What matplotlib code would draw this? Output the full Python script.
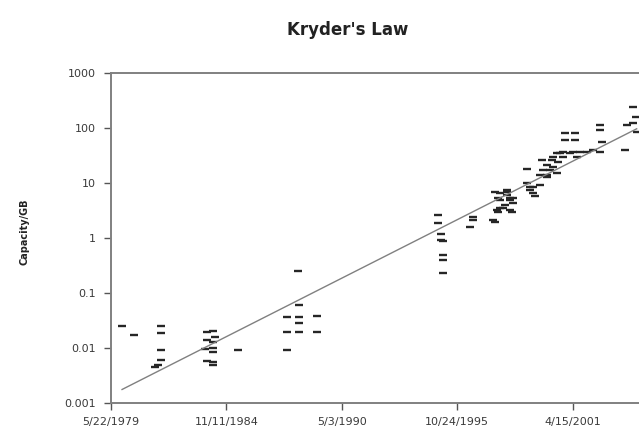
import numpy as np
import matplotlib
matplotlib.use("Agg")
import matplotlib.pyplot as plt
import matplotlib.dates as mdates
from matplotlib.ticker import FixedLocator, FuncFormatter
from datetime import datetime, timedelta

# drive introductions: decimal year, capacity in GB
years = [1979.91, 1980.48, 1981.76, 1981.76, 1981.76, 1981.76, 1981.62, 1981.48,
         1983.94, 1984.23, 1984.32, 1983.94, 1984.23, 1984.23, 1983.85, 1983.94,
         1984.23, 1984.23, 1984.23, 1985.41,
         1988.26, 1988.30, 1987.73, 1988.30, 1989.16, 1988.30, 1987.73, 1988.30,
         1989.16, 1987.73,
         1994.89, 1994.89, 1995.04, 1995.13, 1995.04, 1995.13, 1995.13, 1995.13,
         1996.41, 1996.55, 1996.55,
         1997.50, 1997.60, 1997.69, 1997.74, 1997.83, 1997.83, 1997.74, 1997.60,
         1998.16, 1998.16, 1998.31, 1998.31, 1998.45, 1998.00, 1998.40, 1998.31,
         1997.83, 1998.16, 1998.45, 1998.10,
         1999.11, 1999.11, 1999.40, 1999.25, 1999.49, 1999.40, 1999.73, 1999.25,
         1999.73, 1999.82, 1999.87, 2000.06, 2000.06, 2000.06, 2000.30, 2000.35,
         2000.53, 2000.20, 2000.35, 2000.53, 2000.68, 2000.58,
         2000.82, 2000.82, 2001.15, 2001.29, 2001.48, 2001.63, 2000.92, 2001.39,
         2000.92, 2001.39,
         2002.57, 2002.57, 2002.67, 2002.57, 2001.96, 2002.24,
         2003.76, 2003.85, 2004.14, 2004.14, 2004.33, 2004.30]
capacity = [0.025, 0.0172, 0.025, 0.0187, 0.0092, 0.0061, 0.0049, 0.0045,
            0.0195, 0.0204, 0.0158, 0.014, 0.0129, 0.01, 0.0096, 0.0058,
            0.0056, 0.0049, 0.0085, 0.0092,
            0.25, 0.06, 0.0366, 0.0366, 0.038, 0.0285, 0.0195, 0.0195,
            0.0195, 0.0092,
            2.62, 1.87, 1.2, 0.88, 0.92, 0.49, 0.4, 0.23,
            1.58, 2.12, 2.41,
            2.1, 1.95, 3.2, 2.97, 3.51, 4.9, 5.33, 6.8,
            6.05, 6.8, 5.3, 4.91, 4.3, 3.5, 2.97, 3.23,
            6.58, 7.46, 5.33, 4.0,
            18.0, 10.0, 8.5, 7.5, 5.7, 6.58, 9.2, 8.46,
            14.0, 26.0, 17.2, 21.3, 14.0, 12.9, 26.0, 19.6,
            15.2, 17.2, 29.7, 35.1, 35.1, 24.1,
            29.7, 36.6, 35.1, 36.6, 29.7, 36.6, 81, 81,
            60, 60,
            113, 92, 55.6, 36.6, 36.6, 39.8,
            39.8, 113, 241, 123, 84.5, 160]

tick_dates = ["1979-05-22", "1984-11-11", "1990-05-03", "1995-10-24", "2001-04-15"]
y_ticks = [0.001, 0.01, 0.1, 1, 10, 100, 1000]
y_labels = ["0.001", "0.01", "0.1", "1", "10", "100", "1000"]


def year_to_num(y):
    base = datetime(int(y), 1, 1)
    return mdates.date2num(base + timedelta(days=(y - int(y)) * 365.25))


x = np.array([year_to_num(y) for y in years])
c = np.array(capacity)

fig = plt.figure(figsize=(6.39, 4.30), dpi=100)
# plot area runs past the right edge of the picture, as in the source
ax = fig.add_axes([111 / 639, 27 / 430, 577 / 639, 330 / 430])

ax.plot(x, c, linestyle="none", marker="_", markersize=6, mew=1.7, color="#262626")

# exponential trendline over the data range
k, b = np.polyfit(x, np.log10(c), 1)
xt = np.array([x.min(), x.max()])
ax.plot(xt, 10 ** (k * xt + b), color="#808080", lw=1)

ax.set_yscale("log")
ax.set_ylim(0.001, 1000)
x0 = mdates.date2num(datetime(1979, 5, 22))
ax.set_xlim(x0, x0 + 10000)

ax.yaxis.set_major_locator(FixedLocator(y_ticks))
ax.set_yticklabels(y_labels)
ax.yaxis.set_minor_locator(FixedLocator([]))
ax.xaxis.set_major_locator(FixedLocator([mdates.date2num(datetime.fromisoformat(d)) for d in tick_dates]))
ax.xaxis.set_major_formatter(FuncFormatter(
    lambda v, p: "%d/%d/%d" % (mdates.num2date(v).month, mdates.num2date(v).day, mdates.num2date(v).year)))

ax.tick_params(axis="both", which="major", labelsize=8, labelcolor="#3a3a3a",
               color="#555555", length=5, width=1, direction="out")
ax.tick_params(axis="y", pad=6)
ax.tick_params(axis="x", pad=5)
for s in ["left", "bottom", "top", "right"]:
    ax.spines[s].set_color("#808080")
    ax.spines[s].set_linewidth(1.4)

fig.text(25 / 639, 1 - 232 / 430, "Capacity/GB", rotation=90, ha="center", va="center",
         fontsize=7, fontweight="bold", color="#222222")
fig.text(348 / 639, 1 - 30 / 430, "Kryder's Law", ha="center", va="center",
         fontsize=12, fontweight="bold", color="#222222")

fig.savefig("out.png", dpi=100)
